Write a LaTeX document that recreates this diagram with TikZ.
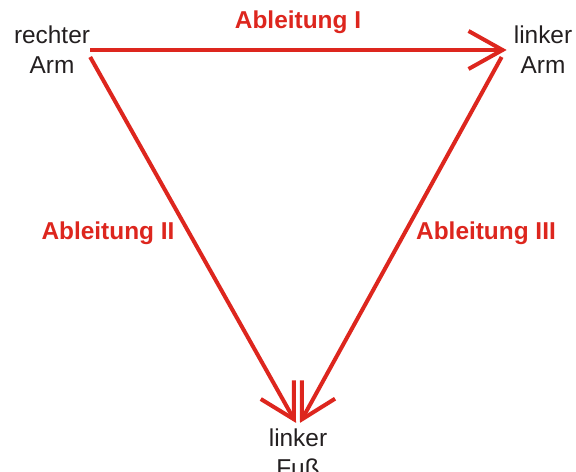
\documentclass[tikz,border=0pt]{standalone}
\usepackage{fontspec}
\setmainfont{Liberation Sans}
\usetikzlibrary{arrows.meta}
\definecolor{ekgred}{RGB}{221,38,30}
\definecolor{ink}{RGB}{35,31,32}
\tikzset{
  limb/.style={align=center,inner sep=0pt,text=ink,font=\fontsize{24.5}{30}\selectfont},
  lead/.style={text=ekgred,font=\fontsize{24.5}{30}\selectfont\bfseries},
  arr/.style={draw=ekgred,line width=4bp,-{Straight Barb[length=34bp,width=38bp,line width=4bp]}}
}
\begin{document}
\begin{tikzpicture}[x=1bp,y=-1bp]
      \useasboundingbox (0,0) rectangle (576,472);
      \node[limb] (ra) at (52,50) {rechter\\Arm};
      \node[limb] (la) at (543,50) {linker\\Arm};
      \node[limb] (lf) at (298,453) {linker\\Fuß};
      \node[lead] (l1) at (298,22) {Ableitung I};
      \node[lead] (l2) at (108,233) {Ableitung II};
      \node[lead] (l3) at (486,233) {Ableitung III};
      \draw[arr] (ra.east) -- ([xshift=-7bp]la.west);
      \draw[arr] ([yshift=-7bp]ra.east) -- ([xshift=-2bp,yshift=6bp]lf.north);
      \draw[arr] ([xshift=-12bp,yshift=-7bp]la.west) -- ([xshift=2bp,yshift=6bp]lf.north);
\end{tikzpicture}
\end{document}
